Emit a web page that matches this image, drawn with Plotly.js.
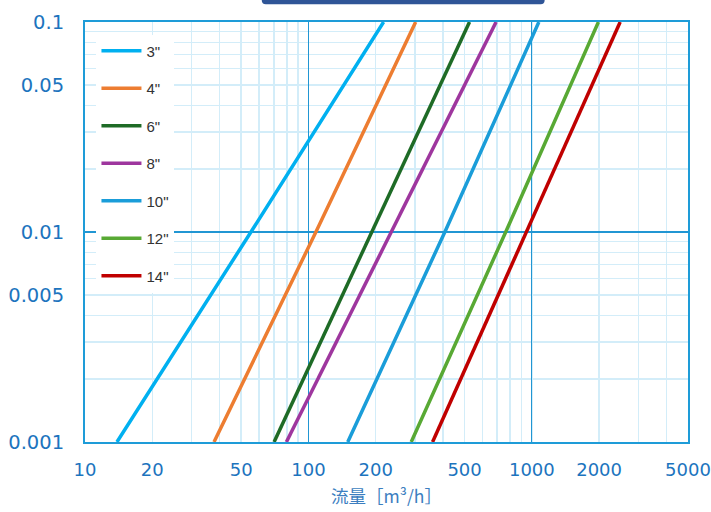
<!DOCTYPE html>
<html>
<head>
<meta charset="utf-8">
<script src="https://cdn.plot.ly/plotly-3.0.1.min.js"></script>
<style>html,body{margin:0;padding:0;background:#fff;}#chart{width:711px;height:512px;}</style>
</head>
<body>
<div id="chart"></div>
<script>
// Pressure-loss levels (y) at which each size's flow was read
const dp = [0.001, 0.01, 0.1];
// Flow rates [m3/h] per pipe size at those levels
const q3  = [13.9, 55.3, 217];
const q4  = [37.8, 108, 302];
const q6  = [70.2, 192, 526];
const q8  = [79.7, 236, 692];
const q10 = [150, 408, 1075];
const q12 = [288.5, 764, 1986];
const q14 = [359.5, 948, 2485];

const sizes  = ['3"', '4"', '6"', '8"', '10"', '12"', '14"'];
const series = [q3, q4, q6, q8, q10, q12, q14];
const colors = ['#00B0F0', '#ED7D31', '#1E6B26', '#9E369E', '#1A9DD9', '#58A934', '#C00000'];

const xTicks = [10, 20, 50, 100, 200, 500, 1000, 2000, 5000];
const xMinor = [30, 40, 60, 70, 80, 90, 300, 400, 600, 700, 800, 900, 3000, 4000];
const xMajorGrid = [100, 1000];
const yTicks = [0.001, 0.005, 0.01, 0.05, 0.1];
const yTickText = ['0.001', '0.005', '0.01', '0.05', '0.1'];
const yMinor = [0.002, 0.003, 0.004, 0.006, 0.007, 0.008, 0.009, 0.02, 0.03, 0.04, 0.06, 0.07, 0.08, 0.09];
const yMajorGrid = [0.01];
const xTitle = '流量［m³/h］';

const traces = series.map((q, i) => ({
  x: q, y: dp, type: 'scatter', mode: 'lines',
  name: sizes[i], legendgroup: 'g' + i,
  line: {color: colors[i], width: 3.5}
}));
// empty trace on an overlay axis pair that only carries the darker grid lines
traces.push({x: [], y: [], type: 'scatter', mode: 'lines', xaxis: 'x2', yaxis: 'y2', showlegend: false, hoverinfo: 'skip'});

const gridLight = '#D3EDF9';
const gridDark = '#2196D3';
const axisBlue = '#1E9CD8';
const labelBlue = '#1C74BE';
const xRange = [1, Math.log10(5000)];
const yRange = [-3, -1];

const layout = {
  width: 711, height: 512,
  margin: {l: 85, r: 23, t: 22, b: 70},
  paper_bgcolor: '#ffffff', plot_bgcolor: '#ffffff',
  font: {family: 'DejaVu Sans, Verdana, sans-serif', color: labelBlue},
  showlegend: true,
  legend: {
    x: 0.019, xanchor: 'left', y: 0.97, yanchor: 'top',
    bgcolor: '#ffffff', borderwidth: 0,
    font: {family: 'Liberation Sans, Arial, sans-serif', size: 15, color: '#333333'},
    tracegroupgap: 15, itemwidth: 40
  },
  xaxis: {
    type: 'log', range: xRange,
    tickmode: 'array', tickvals: xTicks, ticktext: xTicks.map(String),
    tickfont: {size: 18, color: labelBlue},
    ticks: '', ticklabelstandoff: 10,
    showgrid: true, gridcolor: gridLight, gridwidth: 1.5,
    minor: {tickmode: 'array', tickvals: xMinor, showgrid: true, gridcolor: gridLight, gridwidth: 1.5, ticks: ''},
    showline: true, mirror: true, linecolor: axisBlue, linewidth: 2,
    zeroline: false,
    title: {text: xTitle, font: {family: 'Noto Sans CJK JP, sans-serif', size: 17.5, color: '#3C7EC0'}, standoff: 12},
    automargin: false
  },
  yaxis: {
    type: 'log', range: yRange,
    tickmode: 'array', tickvals: yTicks, ticktext: yTickText,
    tickfont: {size: 19.5, color: labelBlue},
    ticks: '', ticklabelstandoff: 15,
    showgrid: true, gridcolor: gridLight, gridwidth: 1.5,
    minor: {tickmode: 'array', tickvals: yMinor, showgrid: true, gridcolor: gridLight, gridwidth: 1.5, ticks: ''},
    showline: true, mirror: true, linecolor: axisBlue, linewidth: 2,
    zeroline: false, automargin: false
  },
  xaxis2: {
    type: 'log', range: xRange, overlaying: 'x', anchor: 'y2',
    tickmode: 'array', tickvals: xMajorGrid, showticklabels: false, ticks: '',
    showgrid: true, gridcolor: gridDark, gridwidth: 1.3,
    showline: false, zeroline: false, automargin: false
  },
  yaxis2: {
    type: 'log', range: yRange, overlaying: 'y', anchor: 'x2',
    tickmode: 'array', tickvals: yMajorGrid, showticklabels: false, ticks: '',
    showgrid: true, gridcolor: gridDark, gridwidth: 1.3,
    showline: false, zeroline: false, automargin: false
  },
  shapes: [{type: 'path', xref: 'paper', yref: 'paper',
    path: 'M0.2932,1.08 L0.2932,1.0516 Q0.2932,1.0421 0.2998,1.0421 L0.7556,1.0421 Q0.7622,1.0421 0.7622,1.0516 L0.7622,1.08 Z',
    fillcolor: '#2F5597', line: {width: 0}}]
};

Plotly.newPlot('chart', traces, layout, {displayModeBar: false, staticPlot: true});
</script>
</body>
</html>
